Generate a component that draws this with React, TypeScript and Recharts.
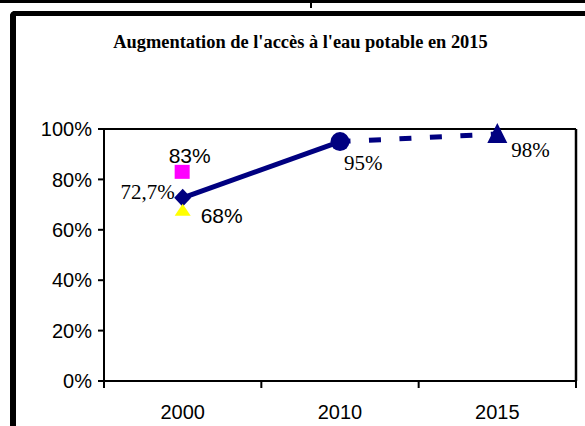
import React from "react";
import {
  ComposedChart,
  Line,
  XAxis,
  YAxis,
  CartesianGrid,
} from "recharts";

const YEARS = ["2000", "2010", "2015"];
const ACCESS = [72.7, 95, null]; // trait plein
const TARGET = [null, 95, 98]; // trait pointillé vers 2015
const URBAN = [83, null, null];
const RURAL = [68, null, null];
const Y_TICKS = [0, 20, 40, 60, 80, 100];

const NAVY = "#000080";
const SANS = "'Liberation Sans', Arial, sans-serif";
const SERIF = "'Liberation Serif', 'Times New Roman', serif";

const W = 585;
const H = 426;
const PLOT_LEFT = 104;
const PLOT_RIGHT = 576;
const HALF_BAND = (PLOT_RIGHT - PLOT_LEFT) / YEARS.length / 2;

const data = YEARS.map((year, i) => ({
  year,
  access: ACCESS[i],
  target: TARGET[i],
  urban: URBAN[i],
  rural: RURAL[i],
}));

const fmt = (v: number) => String(v).replace(".", ",") + "%";

const empty = (key: any) => <g key={key} />;

function AccessDot(props: any) {
  const { cx, cy, index, key } = props;
  if (cy == null || cx == null) return empty(key);
  if (index === 0) {
    return (
      <polygon
        key={key}
        points={`${cx},${cy - 9} ${cx + 8.5},${cy} ${cx},${cy + 9} ${cx - 8.5},${cy}`}
        fill={NAVY}
      />
    );
  }
  return <circle key={key} cx={cx} cy={cy} r={9.5} fill={NAVY} />;
}

function TargetDot(props: any) {
  const { cx, cy, index, key } = props;
  if (cy == null || cx == null || index !== 2) return empty(key);
  return (
    <polygon
      key={key}
      points={`${cx},${cy - 11} ${cx + 10},${cy + 9} ${cx - 10},${cy + 9}`}
      fill={NAVY}
    />
  );
}

function UrbanDot(props: any) {
  const { cx, cy, key } = props;
  if (cy == null || cx == null) return empty(key);
  return <rect key={key} x={cx - 8} y={cy - 7} width={15} height={14} fill="#FF00FF" />;
}

function RuralDot(props: any) {
  const { cx, cy, key } = props;
  if (cy == null || cx == null) return empty(key);
  return (
    <polygon
      key={key}
      points={`${cx},${cy - 6} ${cx + 8},${cy + 6} ${cx - 8},${cy + 6}`}
      fill="#FFFF00"
    />
  );
}

function accessLabel(props: any) {
  const { x, y, value, index } = props;
  if (value == null) return null;
  if (index === 0) {
    return (
      <text x={x - 8} y={y + 1} textAnchor="end" fontFamily={SERIF} fontSize={21} fill="#000">
        {fmt(value)}
      </text>
    );
  }
  return (
    <text x={x + 4} y={y + 28} fontFamily={SERIF} fontSize={21} fill="#000">
      {fmt(value)}
    </text>
  );
}

function targetLabel(props: any) {
  const { x, y, value, index } = props;
  if (value == null || index !== 2) return null;
  return (
    <text x={x + 14} y={y + 23} fontFamily={SERIF} fontSize={21} fill="#000">
      {fmt(value)}
    </text>
  );
}

function urbanLabel(props: any) {
  const { x, y, value } = props;
  if (value == null) return null;
  return (
    <text x={x + 7} y={y - 9} textAnchor="middle" fontFamily={SANS} fontSize={21} fill="#000">
      {fmt(value)}
    </text>
  );
}

function ruralLabel(props: any) {
  const { x, y, value } = props;
  if (value == null) return null;
  return (
    <text x={x + 18} y={y + 13} fontFamily={SANS} fontSize={21} fill="#000">
      {fmt(value)}
    </text>
  );
}

function YearTick(props: any) {
  const { x, y, payload, index } = props;
  const half = payload?.offset || HALF_BAND;
  return (
    <g>
      <line x1={x - half} y1={y} x2={x - half} y2={y + 7} stroke="#000" strokeWidth={2} />
      {index === YEARS.length - 1 && (
        <line x1={x + half} y1={y} x2={x + half} y2={y + 7} stroke="#000" strokeWidth={2} />
      )}
      <text x={x} y={y + 38} textAnchor="middle" fontFamily={SANS} fontSize={20} fill="#000">
        {payload.value}
      </text>
    </g>
  );
}

export default function App() {
  return (
    <div
      style={{
        position: "fixed",
        left: 0,
        top: 0,
        width: W,
        height: H,
        background: "#fff",
        overflow: "hidden",
      }}
    >
      <div style={{ position: "absolute", left: 0, top: 0, width: W, height: 3, background: "#000" }} />
      <div style={{ position: "absolute", left: 310, top: 0, width: 2, height: 8, background: "#000" }} />
      <div
        style={{
          position: "absolute",
          left: 10,
          top: 11,
          width: 700,
          height: 600,
          borderLeft: "6px solid #000",
          borderTop: "5px solid #000",
          borderTopLeftRadius: 5,
        }}
      />
      <div
        style={{
          position: "absolute",
          left: 8,
          top: 32,
          width: W,
          textAlign: "center",
          fontFamily: SERIF,
          fontWeight: "bold",
          fontSize: 18.4,
          color: "#000",
        }}
      >
        Augmentation de l'accès à l'eau potable en 2015
      </div>
      <div style={{ position: "absolute", left: 0, top: 0 }}>
        <ComposedChart
          width={W}
          height={H}
          data={data}
          margin={{ top: 129, right: 0, left: 0, bottom: 15 }}
        >
          <CartesianGrid vertical={false} stroke="#000" strokeWidth={2} />
          <XAxis
            dataKey="year"
            scale="band"
            height={30}
            axisLine={{ stroke: "#000", strokeWidth: 2 }}
            tickLine={false}
            tickSize={0}
            tickMargin={0}
            tick={<YearTick />}
          />
          <YAxis
            yAxisId="left"
            width={PLOT_LEFT}
            domain={[0, 100]}
            ticks={Y_TICKS}
            tickFormatter={(v: number) => v + "%"}
            axisLine={{ stroke: "#000", strokeWidth: 2 }}
            tickLine={{ stroke: "#000", strokeWidth: 2 }}
            tickSize={6}
            tickMargin={6}
            tick={{ fill: "#000", fontSize: 20, fontFamily: SANS }}
          />
          <YAxis
            yAxisId="right"
            orientation="right"
            width={W - PLOT_RIGHT}
            tick={false}
            tickLine={false}
            axisLine={{ stroke: "#000", strokeWidth: 2.5 }}
          />
          <Line
            yAxisId="left"
            dataKey="access"
            stroke={NAVY}
            strokeWidth={5}
            dot={AccessDot}
            activeDot={false}
            label={accessLabel}
            isAnimationActive={false}
          />
          <Line
            yAxisId="left"
            dataKey="target"
            stroke={NAVY}
            strokeWidth={5}
            strokeDasharray="12 18.5"
            strokeDashoffset={1.5}
            dot={TargetDot}
            activeDot={false}
            label={targetLabel}
            isAnimationActive={false}
          />
          <Line
            yAxisId="left"
            dataKey="urban"
            stroke="none"
            dot={UrbanDot}
            activeDot={false}
            label={urbanLabel}
            isAnimationActive={false}
          />
          <Line
            yAxisId="left"
            dataKey="rural"
            stroke="none"
            dot={RuralDot}
            activeDot={false}
            label={ruralLabel}
            isAnimationActive={false}
          />
        </ComposedChart>
      </div>
    </div>
  );
}
